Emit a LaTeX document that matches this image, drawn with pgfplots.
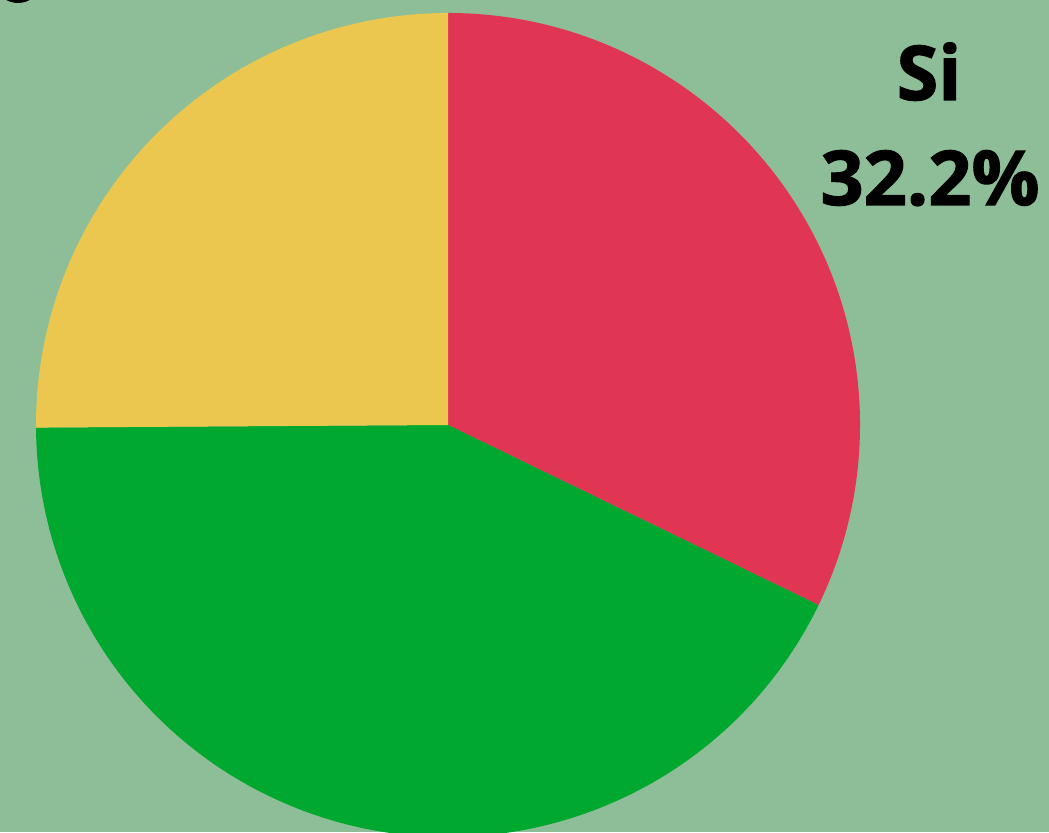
\documentclass[border=0pt]{standalone}
\usepackage{pgfplots}
\pgfplotsset{compat=1.18}
\usepackage{pgfplotstable}
\usepackage{fontspec}
\setmainfont{Open Sans}
\newfontfamily\lbl{Open Sans}[BoldFeatures={FakeBold=1.6}]
\definecolor{bg}{HTML}{8DBE98}
\definecolor{sired}{HTML}{E03553}
\definecolor{sigreen}{HTML}{00A82F}
\definecolor{siyellow}{HTML}{EBC74F}
\pgfplotstableread{
label value color
Si 32.2 sired
No 42.7 sigreen
Otro 25.1 siyellow
}\piedata
\begin{document}
\begin{tikzpicture}
\useasboundingbox (0,0) rectangle (10.49,8.32);
\clip (0,0) rectangle (10.49,8.32);
\fill[bg] (0,0) rectangle (10.49,8.32);
\fill[black] (0.18,8.45) ellipse (0.2 and 0.16);
\begin{axis}[
  x=4.12cm, y=4.12cm,
  xmin=-1, xmax=1, ymin=-1, ymax=1,
  hide axis, clip=false,
  anchor=origin, at={(4.48cm,4.07cm)},
]
\pgfplotstablegetrowsof{\piedata}
\pgfmathtruncatemacro\N{\pgfplotsretval-1}
\def\cum{0}
\pgfplotsforeachungrouped \i in {0,...,\N}{%
  \pgfplotstablegetelem{\i}{value}\of\piedata \let\v\pgfplotsretval
  \pgfplotstablegetelem{\i}{color}\of\piedata \let\c\pgfplotsretval
  \pgfmathsetmacro\a{90-3.6*\cum}
  \pgfmathsetmacro\b{90-3.6*(\cum+\v)}
  \edef\temp{\noexpand\fill[\c] (axis cs:0,0) -- (axis cs:{cos(\a)},{sin(\a)}) arc[start angle=\a, end angle=\b, radius=4.12cm] -- cycle;}
  \temp
  \pgfmathsetmacro\cum{\cum+\v}
}
\end{axis}
\node[anchor=base, font=\lbl\fontsize{21.5pt}{25pt}\selectfont\bfseries] at (9.29,7.32) {Si};
\node[anchor=base, font=\lbl\fontsize{21.5pt}{25pt}\selectfont\bfseries] at (9.30,6.27) {32.2\%};
\end{tikzpicture}
\end{document}
